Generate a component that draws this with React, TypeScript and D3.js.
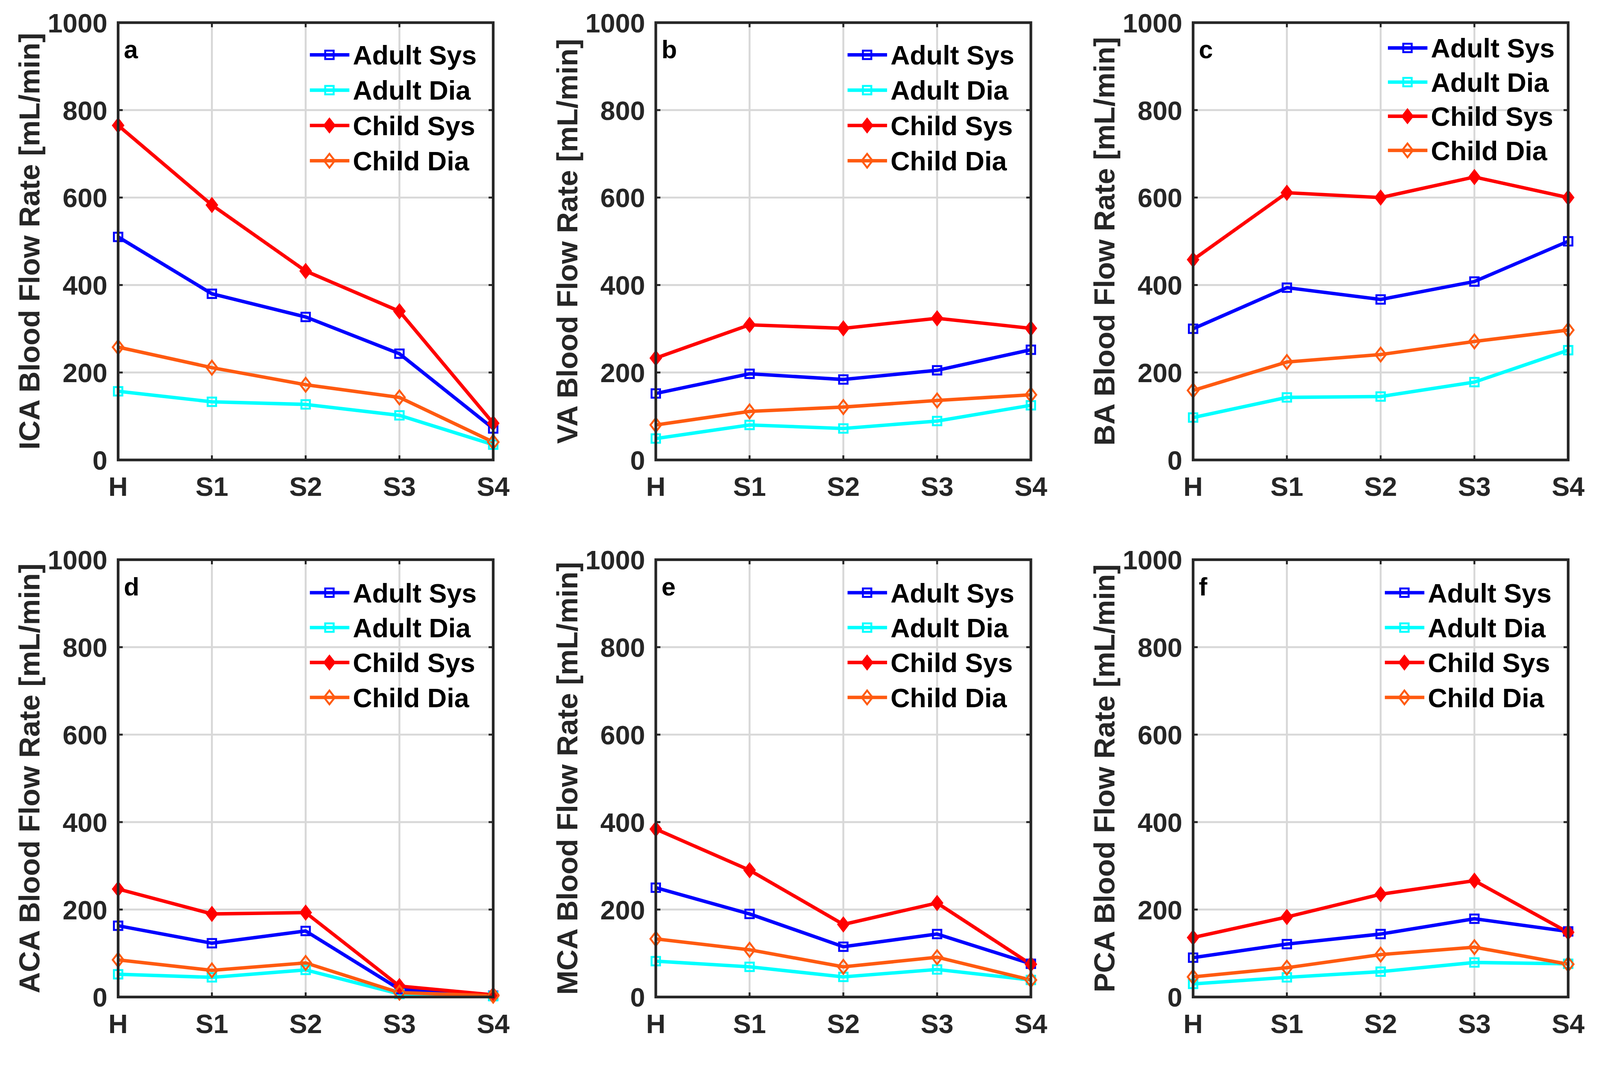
import React from "react";
import * as d3 from "d3";

const stages = ["H", "S1", "S2", "S3", "S4"];
const yTicks = [0, 200, 400, 600, 800, 1000];
const seriesNames = ["Adult Sys", "Adult Dia", "Child Sys", "Child Dia"];
const seriesColors = ["#0000ff", "#00ffff", "#ff0000", "#ff5a10"];
const seriesMarkers = ["square", "square", "diamond", "diamondOpen"];
const arteries = ["ICA", "VA", "BA", "ACA", "MCA", "PCA"];
const panelLetters = ["a", "b", "c", "d", "e", "f"];

const icaAdultSys = [510, 380, 327, 243, 72];
const icaAdultDia = [157, 133, 127, 102, 35];
const icaChildSys = [765, 583, 432, 340, 84];
const icaChildDia = [258, 211, 172, 143, 41];

const vaAdultSys = [152, 197, 184, 205, 252];
const vaAdultDia = [49, 80, 72, 89, 125];
const vaChildSys = [233, 309, 301, 324, 301];
const vaChildDia = [80, 111, 121, 136, 149];

const baAdultSys = [300, 394, 367, 408, 500];
const baAdultDia = [97, 143, 145, 178, 251];
const baChildSys = [458, 611, 600, 647, 600];
const baChildDia = [159, 224, 241, 271, 297];

const acaAdultSys = [163, 123, 151, 18, 3];
const acaAdultDia = [52, 45, 62, 7, 2];
const acaChildSys = [247, 190, 193, 25, 5];
const acaChildDia = [85, 61, 78, 10, 3];

const mcaAdultSys = [250, 190, 115, 144, 76];
const mcaAdultDia = [82, 69, 46, 63, 39];
const mcaChildSys = [384, 290, 166, 215, 75];
const mcaChildDia = [133, 108, 69, 91, 39];

const pcaAdultSys = [90, 121, 144, 179, 150];
const pcaAdultDia = [30, 45, 58, 79, 76];
const pcaChildSys = [136, 183, 235, 266, 148];
const pcaChildDia = [46, 67, 97, 114, 75];

const panelData = [
  [icaAdultSys, icaAdultDia, icaChildSys, icaChildDia],
  [vaAdultSys, vaAdultDia, vaChildSys, vaChildDia],
  [baAdultSys, baAdultDia, baChildSys, baChildDia],
  [acaAdultSys, acaAdultDia, acaChildSys, acaChildDia],
  [mcaAdultSys, mcaAdultDia, mcaChildSys, mcaChildDia],
  [pcaAdultSys, pcaAdultDia, pcaChildSys, pcaChildDia],
];

const W = 4172;
const H = 2741;
const PW = 978;
const PH = 1140;
const lefts = [308, 1710, 3111];
const tops = [59, 1459];
const FONT = "'Liberation Sans', Arial, Helvetica, sans-serif";
const AX = "#262626";

// legend layout per panel: [lineStart, textX, rowTop, rowStep]
const legendLayout = [
  [500, 612, 84, 92],
  [500, 612, 84, 92],
  [508, 620, 66, 89],
  [500, 612, 86, 91],
  [500, 612, 86, 91],
  [500, 612, 86, 91],
];

function Marker({ type, x, y, color }: { type: string; x: number; y: number; color: string }) {
  if (type === "square") {
    const s = 22;
    return <rect x={x - s / 2} y={y - s / 2} width={s} height={s} fill="none" stroke={color} strokeWidth={5} />;
  }
  const hw = 14;
  const hh = 18;
  const d = `M${x},${y - hh}L${x + hw},${y}L${x},${y + hh}L${x - hw},${y}Z`;
  if (type === "diamond") return <path d={d} fill={color} stroke={color} strokeWidth={4} />;
  return <path d={d} fill="none" stroke={color} strokeWidth={5} />;
}

function Panel({ idx }: { idx: number }) {
  const left = lefts[idx % 3];
  const top = tops[Math.floor(idx / 3)];
  const x = d3.scalePoint<string>().domain(stages).range([0, PW]);
  const y = d3.scaleLinear().domain([0, 1000]).range([PH, 0]);
  const line = d3
    .line<number>()
    .x((_, i) => x(stages[i]) as number)
    .y((v) => y(v));
  const series = panelData[idx];
  const [ls, tx, rt, rs] = legendLayout[idx];
  return (
    <g transform={`translate(${left},${top})`}>
      {stages.slice(1, -1).map((s) => (
        <line key={"gx" + s} x1={x(s)} x2={x(s)} y1={0} y2={PH} stroke="#d8d8d8" strokeWidth={5} />
      ))}
      {yTicks.slice(1, -1).map((t) => (
        <line key={"gy" + t} x1={0} x2={PW} y1={y(t)} y2={y(t)} stroke="#d8d8d8" strokeWidth={5} />
      ))}
      {stages.map((s) => (
        <g key={"tx" + s}>
          <line x1={x(s)} x2={x(s)} y1={PH} y2={PH - 12} stroke={AX} strokeWidth={5} />
          <line x1={x(s)} x2={x(s)} y1={0} y2={12} stroke={AX} strokeWidth={5} />
        </g>
      ))}
      {yTicks.map((t) => (
        <g key={"ty" + t}>
          <line x1={0} x2={12} y1={y(t)} y2={y(t)} stroke={AX} strokeWidth={5} />
          <line x1={PW} x2={PW - 12} y1={y(t)} y2={y(t)} stroke={AX} strokeWidth={5} />
        </g>
      ))}
      {series.map((vals, si) => (
        <path key={"l" + si} d={line(vals) || ""} fill="none" stroke={seriesColors[si]} strokeWidth={9} strokeLinejoin="round" />
      ))}
      {series.map((vals, si) =>
        vals.map((v, i) => (
          <Marker key={"m" + si + "_" + i} type={seriesMarkers[si]} x={x(stages[i]) as number} y={y(v)} color={seriesColors[si]} />
        ))
      )}
      <rect x={0} y={0} width={PW} height={PH} fill="none" stroke={AX} strokeWidth={7} />
      {yTicks.map((t) => (
        <text key={"yl" + t} x={-28} y={y(t)} dy="0.36em" textAnchor="end" fontFamily={FONT} fontWeight="bold" fontSize={70} fill={AX}>
          {t}
        </text>
      ))}
      {stages.map((s) => (
        <text key={"xl" + s} x={x(s)} y={PH + 94} textAnchor="middle" fontFamily={FONT} fontWeight="bold" fontSize={70} fill={AX}>
          {s}
        </text>
      ))}
      <text transform={`translate(-205,${PH / 2}) rotate(-90)`} textAnchor="middle" fontFamily={FONT} fontWeight="bold" fontSize={76} fill={AX}>
        {arteries[idx]} Blood Flow Rate [mL/min]
      </text>
      <text x={15} y={93} fontFamily={FONT} fontWeight="bold" fontSize={66} fill="#000">
        {panelLetters[idx]}
      </text>
      {seriesNames.map((n, si) => {
        const cy = rt + si * rs;
        return (
          <g key={"lg" + si}>
            <line x1={ls} x2={ls + 103} y1={cy} y2={cy} stroke={seriesColors[si]} strokeWidth={9} />
            <Marker type={seriesMarkers[si]} x={ls + 51} y={cy} color={seriesColors[si]} />
            <text x={tx} y={cy} dy="0.36em" fontFamily={FONT} fontWeight="bold" fontSize={70} fill="#000">
              {n}
            </text>
          </g>
        );
      })}
    </g>
  );
}

export default function App() {
  return (
    <svg
      viewBox={`0 0 ${W} ${H}`}
      preserveAspectRatio="xMinYMin meet"
      style={{ position: "fixed", left: 0, top: 0, width: "100vw", height: "100vh", background: "#fff", display: "block" }}
    >
      <rect width={W} height={H} fill="#fff" />
      {arteries.map((_, i) => (
        <Panel key={i} idx={i} />
      ))}
    </svg>
  );
}
